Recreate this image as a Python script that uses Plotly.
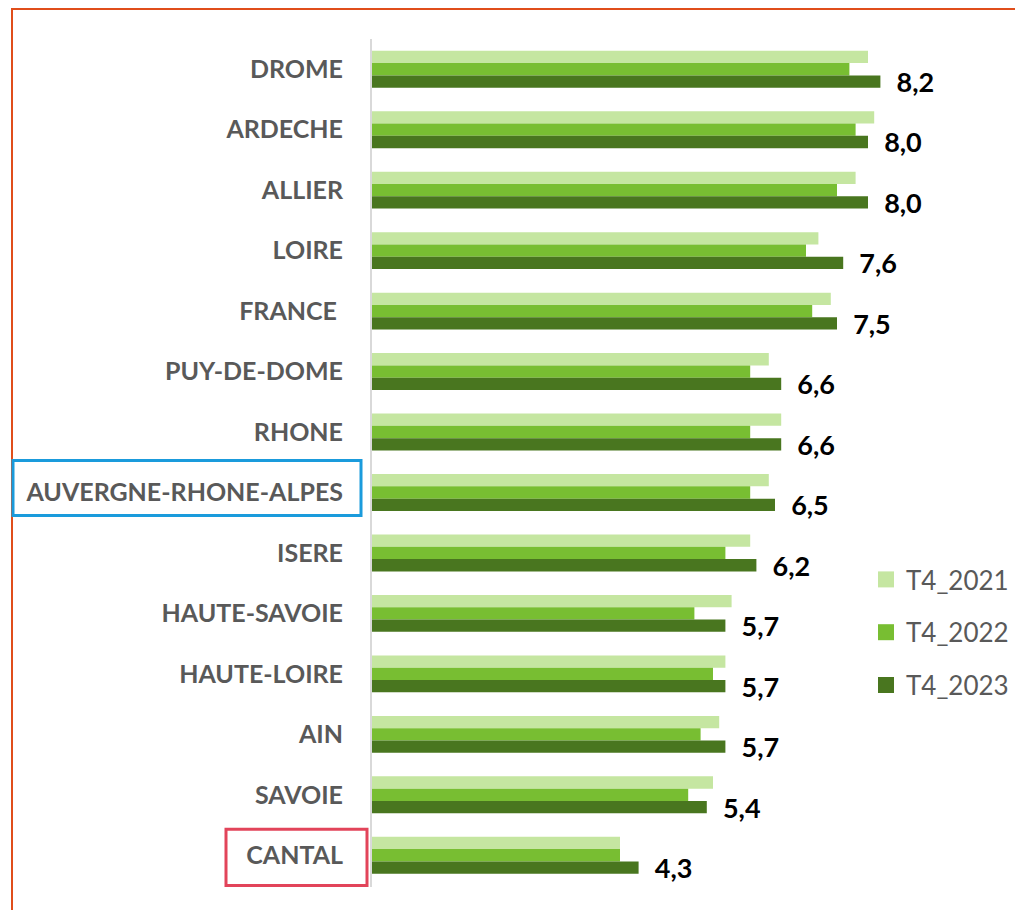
import plotly.graph_objects as go

categories = ["DROME", "ARDECHE", "ALLIER", "LOIRE", "FRANCE\u00a0", "PUY-DE-DOME", "RHONE",
              "AUVERGNE-RHONE-ALPES", "ISERE", "HAUTE-SAVOIE", "HAUTE-LOIRE", "AIN", "SAVOIE", "CANTAL"]
t4_2021 = [8.0, 8.1, 7.8, 7.2, 7.4, 6.4, 6.6, 6.4, 6.1, 5.8, 5.7, 5.6, 5.5, 4.0]
t4_2022 = [7.7, 7.8, 7.5, 7.0, 7.1, 6.1, 6.1, 6.1, 5.7, 5.2, 5.5, 5.3, 5.1, 4.0]
t4_2023 = [8.2, 8.0, 8.0, 7.6, 7.5, 6.6, 6.6, 6.5, 6.2, 5.7, 5.7, 5.7, 5.4, 4.3]
series_names = ["T4_2021", "T4_2022", "T4_2023"]
colors = ["#C5E6A1", "#78BE32", "#49761F"]

OFF = 8  # page body margin compensation
W, H = 1023, 910
ML, MT = 372 - OFF, 39 - OFF
PH = 848
MB = H - MT - PH
MR = 18
PW = W - ML - MR
PX_PER_UNIT = 62.0

def px_x(p):
    return (p - OFF - ML) / PW

def px_y(p):
    return 1 - (p - OFF - MT) / PH

fig = go.Figure()
for name, vals, col in zip(series_names, [t4_2021, t4_2022, t4_2023], colors):
    kw = {}
    if name == "T4_2023":
        kw = dict(text=["\u00a0\u00a0" + f"{v:.1f}".replace(".", ",") for v in vals],
                  textposition="outside", constraintext="none", cliponaxis=False,
                  textfont=dict(family="Lato", size=27, color="#000000", weight="bold"))
    fig.add_trace(go.Bar(y=categories, x=vals, name=name, orientation="h",
                         marker=dict(color=col, line=dict(width=0)),
                         showlegend=False, **kw))
    # legend entry with a larger square swatch
    fig.add_trace(go.Scatter(x=[None], y=[None], mode="markers", name=name,
                             marker=dict(symbol="square", size=16, color=col),
                             legendgroup=name, showlegend=True))

fig.update_layout(
    width=W, height=H,
    margin=dict(l=ML, r=MR, t=MT, b=MB, pad=0, autoexpand=False),
    plot_bgcolor="white", paper_bgcolor="white",
    barmode="group", bargap=0.39, bargroupgap=0,
    showlegend=True,
    legend=dict(xref="container", yref="container",
                x=(866 - OFF) / W, y=1 - (556 - OFF) / H, xanchor="left", yanchor="top",
                font=dict(family="Lato", size=26, color="#595959"),
                traceorder="grouped", tracegroupgap=16, bgcolor="rgba(0,0,0,0)",
                itemwidth=30),
    xaxis=dict(range=[0, PW / PX_PER_UNIT], showgrid=False, zeroline=False,
               showticklabels=False, showline=False, ticks="", automargin=False),
    yaxis=dict(autorange="reversed", showgrid=False, zeroline=False,
               showline=True, linecolor="#D9D9D9", linewidth=2, automargin=False,
               ticks="", ticklabelstandoff=22,
               tickfont=dict(family="Lato", size=25, color="#595959", weight="bold")),
)

# frame and highlight boxes
fig.add_shape(type="rect", xref="paper", yref="paper",
              x0=px_x(12), x1=px_x(1060), y0=px_y(9), y1=-0.2,
              line=dict(color="#E04E1B", width=2), layer="above")
fig.add_shape(type="rect", xref="paper", yref="y",
              x0=px_x(13), x1=px_x(361), y0=6.47, y1=7.38,
              line=dict(color="#1A9BDC", width=3), layer="above")
fig.add_shape(type="rect", xref="paper", yref="y",
              x0=px_x(226), x1=px_x(367), y0=12.57, y1=13.5,
              line=dict(color="#E2445A", width=3), layer="above")

fig.write_html("out.html")
